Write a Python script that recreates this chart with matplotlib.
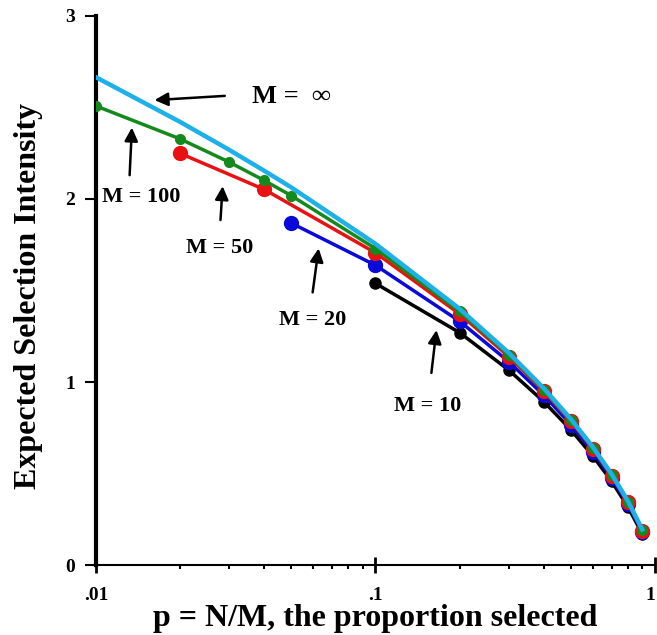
import matplotlib.pyplot as plt
import numpy as np
from matplotlib.ticker import FixedLocator, NullFormatter

plt.rcParams['font.family'] = ['Liberation Serif', 'DejaVu Serif']
plt.rcParams['font.weight'] = 'bold'

# proportion selected p = N/M and expected mean of the top N of M normal deviates
p_inf = [.01, .02, .03, .04, .05, .1, .2, .3, .4, .5, .6, .7, .8, .9]
i_inf = [2.665, 2.421, 2.268, 2.154, 2.063, 1.755, 1.400, 1.159, 0.966, 0.798, 0.644, 0.497, 0.350, 0.195]

p_100 = [.01, .02, .03, .04, .05, .1, .2, .3, .4, .5, .6, .7, .8, .9]
i_100 = [2.508, 2.328, 2.201, 2.101, 2.018, 1.729, 1.386, 1.149, 0.958, 0.792, 0.639, 0.493, 0.347, 0.192]

p_50 = [.02, .04, .1, .2, .3, .4, .5, .6, .7, .8, .9]
i_50 = [2.249, 2.052, 1.706, 1.372, 1.139, 0.951, 0.786, 0.634, 0.489, 0.343, 0.189]

p_20 = [.05, .1, .2, .3, .4, .5, .6, .7, .8, .9]
i_20 = [1.868, 1.638, 1.332, 1.111, 0.928, 0.768, 0.619, 0.476, 0.333, 0.182]

p_10 = [.1, .2, .3, .4, .5, .6, .7, .8, .9]
i_10 = [1.539, 1.270, 1.065, 0.893, 0.739, 0.595, 0.457, 0.318, 0.171]

x_ticks = [0.01, 0.1, 1]
x_ticklabels = ['.01', '.1', '1']
y_ticks = [0, 1, 2, 3]

fig = plt.figure(figsize=(6.57, 6.35), dpi=100)
ax = fig.add_axes([0.146, 0.110, 0.851, 0.865])

ax.plot(p_10, i_10, '-o', color='black', lw=2.5, ms=8, zorder=2)
ax.plot(p_20, i_20, '-o', color='#0a0ad8', lw=2.5, ms=10, zorder=3)
ax.plot(p_50, i_50, '-o', color='#e81212', lw=2.5, ms=10, zorder=4)
ax.plot(p_100, i_100, '-o', color='#158a1c', lw=2.5, ms=7, zorder=5)
ax.plot(p_inf, i_inf, '-', color='#1eb0e8', lw=3.2, zorder=6)

ax.set_xscale('log')
ax.set_xlim(0.01, 1)
ax.set_ylim(0, 3)

ax.xaxis.set_major_locator(FixedLocator(x_ticks))
ax.set_xticklabels(x_ticklabels)
ax.xaxis.set_minor_locator(FixedLocator([k * 10.0 ** e for e in (-2, -1) for k in range(2, 10)]))
ax.xaxis.set_minor_formatter(NullFormatter())
ax.set_yticks(y_ticks)
ax.set_yticklabels([str(v) for v in y_ticks])
# keep the last x label inside the figure
ax.get_xticklabels()[-1].set_horizontalalignment('right')

for s in ('top', 'right'):
    ax.spines[s].set_visible(False)
ax.spines['left'].set_linewidth(3)
ax.spines['bottom'].set_linewidth(1.5)
ax.tick_params(axis='y', which='major', direction='out', length=8, width=1.5, labelsize=14, pad=7)
ax.tick_params(axis='x', which='major', direction='inout', length=11, width=2, labelsize=14, pad=10)
ax.tick_params(axis='x', which='minor', direction='out', length=3, width=1.5)

ax.set_xlabel('p = N/M, the proportion selected', fontsize=23, fontweight='bold', va='baseline')
ax.xaxis.set_label_coords(0.5, -0.111)
ax.set_ylabel('Expected Selection Intensity', fontsize=23, fontweight='bold')
ax.yaxis.set_label_coords(-0.095, 0.49)

arrow = dict(arrowstyle='-|>', color='black', lw=1.8, mutation_scale=20, shrinkA=0, shrinkB=0)
# labels with arrows pointing to each curve
ax.annotate('', xy=(0.0162, 2.54), xytext=(0.0289, 2.563), arrowprops=arrow)
ax.text(0.0361, 2.56, 'M =  \u221e', fontsize=19, fontweight='bold', va='center', ha='left')
ax.annotate('', xy=(0.01345, 2.39), xytext=(0.0132, 2.13), arrowprops=arrow)
ax.text(0.0145, 2.01, 'M = 100', fontsize=16, fontweight='bold', va='center', ha='center')
ax.annotate('', xy=(0.0284, 2.07), xytext=(0.0279, 1.885), arrowprops=arrow)
ax.text(0.0277, 1.73, 'M = 50', fontsize=16, fontweight='bold', va='center', ha='center')
ax.annotate('', xy=(0.0626, 1.73), xytext=(0.0596, 1.49), arrowprops=arrow)
ax.text(0.0595, 1.34, 'M = 20', fontsize=16, fontweight='bold', va='center', ha='center')
ax.annotate('', xy=(0.1652, 1.284), xytext=(0.1585, 1.05), arrowprops=arrow)
ax.text(0.154, 0.87, 'M = 10', fontsize=16, fontweight='bold', va='center', ha='center')

fig.savefig('out.png', dpi=100)
